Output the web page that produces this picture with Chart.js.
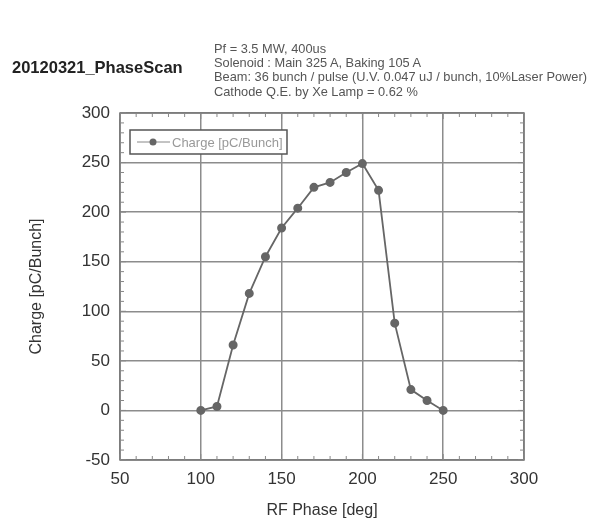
<!DOCTYPE html>
<html>
<head>
<meta charset="utf-8">
<script src="https://cdn.jsdelivr.net/npm/chart.js@4.4.1/dist/chart.umd.min.js"></script>
<style>
  body { margin: 0; background: #fff; }
  #wrap { position: relative; width: 592px; height: 522px; overflow: hidden; }
  #title { position: absolute; left: 12px; top: 58px; font: bold 16.5px 'Liberation Sans', Arial, sans-serif; color: #222; white-space: nowrap; }
  #notes { position: absolute; left: 214px; top: 42px; font: 12.8px 'Liberation Sans', Arial, sans-serif; color: #555; line-height: 14.2px; white-space: nowrap; }
</style>
</head>
<body>
<div id="wrap">
  <canvas id="phaseChart" width="592" height="522"></canvas>
  <div id="title">20120321_PhaseScan</div>
  <div id="notes">
    Pf = 3.5 MW, 400us<br>
    Solenoid : Main 325 A, Baking 105 A<br>
    Beam: 36 bunch / pulse (U.V. 0.047 uJ / bunch, 10%Laser Power)<br>
    Cathode Q.E. by Xe Lamp = 0.62 %
  </div>
</div>
<script>
// data
const phases = [100, 110, 120, 130, 140, 150, 160, 170, 180, 190, 200, 210, 220, 230, 240, 250];
const charge = [0, 4, 66, 118, 155, 184, 204, 225, 230, 240, 249, 222, 88, 21, 10, 0];
const seriesName = 'Charge [pC/Bunch]';
const xRange = [50, 300];
const yRange = [-50, 300];

const FONT = "'Liberation Sans', Arial, sans-serif";
const GRID = '#8c8c8c';

// box, inward minor ticks and the legend
const framePlugin = {
    id: 'frame',
    afterDraw(chart) {
        const ctx = chart.ctx;
        const a = chart.chartArea;
        const xs = chart.scales.x, ys = chart.scales.y;
        ctx.save();
        ctx.strokeStyle = '#777';
        ctx.lineWidth = 1.5;
        ctx.strokeRect(a.left, a.top, a.right - a.left, a.bottom - a.top);

        ctx.lineWidth = 1;
        ctx.strokeStyle = '#888';
        ctx.beginPath();
        for (let v = xRange[0]; v <= xRange[1]; v += 10) {
            const px = xs.getPixelForValue(v);
            const len = v % 50 === 0 ? 6 : 4;
            ctx.moveTo(px, a.bottom); ctx.lineTo(px, a.bottom - len);
            ctx.moveTo(px, a.top); ctx.lineTo(px, a.top + len);
        }
        for (let v = yRange[0]; v <= yRange[1]; v += 10) {
            const py = ys.getPixelForValue(v);
            const len = v % 50 === 0 ? 6 : 4;
            ctx.moveTo(a.left, py); ctx.lineTo(a.left + len, py);
            ctx.moveTo(a.right, py); ctx.lineTo(a.right - len, py);
        }
        ctx.stroke();

        // legend box
        const lx = 130, ly = 130, lw = 157, lh = 24;
        ctx.fillStyle = '#fff';
        ctx.fillRect(lx, ly, lw, lh);
        ctx.strokeStyle = '#555';
        ctx.lineWidth = 1.5;
        ctx.strokeRect(lx, ly, lw, lh);
        ctx.strokeStyle = '#888';
        ctx.lineWidth = 1;
        ctx.beginPath();
        ctx.moveTo(lx + 7, ly + lh / 2); ctx.lineTo(lx + 40, ly + lh / 2);
        ctx.stroke();
        ctx.fillStyle = '#666';
        ctx.beginPath();
        ctx.arc(lx + 23, ly + lh / 2, 3.5, 0, Math.PI * 2);
        ctx.fill();
        ctx.fillStyle = '#999';
        ctx.font = '13px ' + FONT;
        ctx.textBaseline = 'middle';
        ctx.fillText(chart.data.datasets[0].label, lx + 42, ly + lh / 2 + 1);
        ctx.restore();
    }
};

const ctx = document.getElementById('phaseChart').getContext('2d');

const config = {
    type: 'scatter',
    data: {
        datasets: [{
            label: seriesName,
            data: phases.map((p, i) => ({ x: p, y: charge[i] })),
            showLine: true,
            borderColor: '#666',
            backgroundColor: '#666',
            borderWidth: 1.8,
            pointRadius: 3.6,
            pointHoverRadius: 3.6
        }]
    },
    options: {
        responsive: false,
        animation: false,
        layout: { padding: { left: 0, right: 68, top: 113, bottom: 0 } },
        plugins: {
            legend: { display: false },
            tooltip: { enabled: false }
        },
        scales: {
            x: {
                type: 'linear',
                min: xRange[0],
                max: xRange[1],
                border: { display: false },
                grid: { color: GRID, lineWidth: 1.5, drawTicks: false },
                ticks: { stepSize: 50, padding: 9, color: '#333', font: { family: FONT, size: 17 } },
                title: { display: true, text: 'RF Phase [deg]', color: '#333', font: { family: FONT, size: 16 }, padding: { top: 4, bottom: 2 } },
                afterFit(scale) { scale.height = 62; }
            },
            y: {
                type: 'linear',
                min: yRange[0],
                max: yRange[1],
                border: { display: false },
                grid: { color: GRID, lineWidth: 1.5, drawTicks: false },
                ticks: { stepSize: 50, padding: 10, color: '#333', font: { family: FONT, size: 17 } },
                title: { display: true, text: 'Charge [pC/Bunch]', color: '#333', font: { family: FONT, size: 16 }, padding: { top: 27, bottom: 0 } },
                afterFit(scale) { scale.width = 120; }
            }
        }
    },
    plugins: [framePlugin]
};

const phaseChart = new Chart(ctx, config);
</script>
</body>
</html>
